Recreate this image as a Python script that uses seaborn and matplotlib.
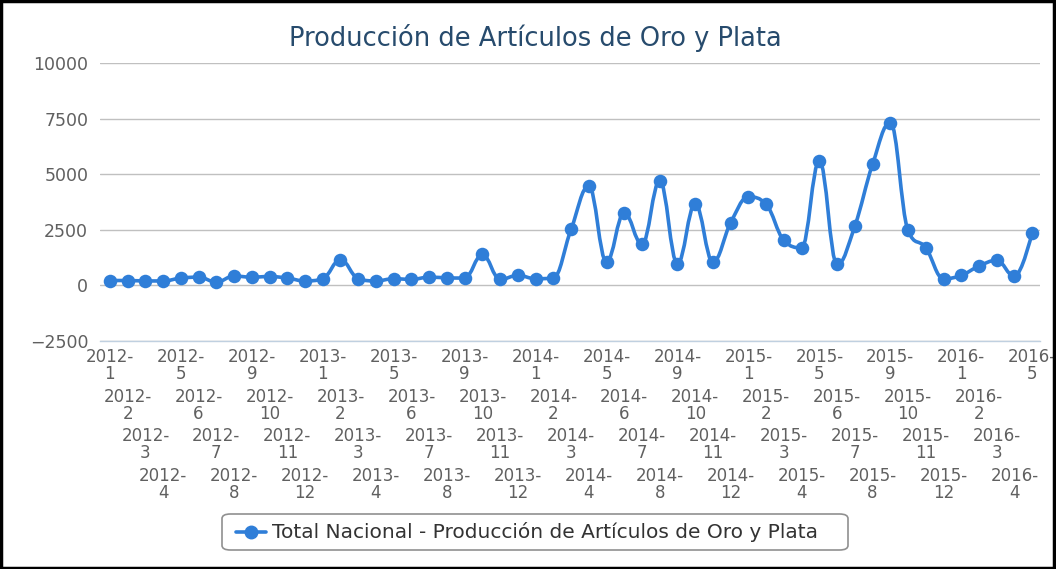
import numpy as np
import pandas as pd
import matplotlib
matplotlib.use("Agg")
import matplotlib.pyplot as plt
import seaborn as sns
from matplotlib.path import Path
from matplotlib.patches import PathPatch, FancyBboxPatch, Rectangle
from matplotlib.lines import Line2D

# --- data ---
years = [2012] * 12 + [2013] * 12 + [2014] * 12 + [2015] * 12 + [2016] * 5
months = list(range(1, 13)) * 4 + [1, 2, 3, 4, 5]
produccion = [
    220, 220, 200, 200, 330, 370, 150, 420, 370, 400, 330, 200,
    300, 1160, 300, 200, 300, 270, 370, 340, 330, 1390, 270, 450,
    300, 330, 2520, 4470, 1050, 3270, 1845, 4700, 975, 3670, 1050, 2820,
    3975, 3645, 2025, 1695, 5600, 945, 2670, 5445, 7320, 2475, 1695, 300,
    450, 870, 1125, 405, 2370,
]
etiquetas = [f"{y}-\n{m}" for y, m in zip(years, months)]

df = pd.DataFrame({"idx": np.arange(len(produccion)), "valor": produccion})

azul = "#2f7ed8"
gris = "#606060"

sns.set_style("white")
plt.rcParams["font.family"] = ["DejaVu Sans"]

fig = plt.figure(figsize=(10.56, 5.69), dpi=100)
ax = fig.add_axes([0.0947, 0.4007, 0.8903, 0.4886])

ax.set_xlim(-0.56, len(produccion) - 0.55)
ax.set_ylim(-2500, 10000)


# spline like the one Highcharts draws (smoothing 1.5, no false extremes)
def spline_path(xs, ys, smoothing=1.5):
    n = len(xs)
    den = smoothing + 1
    lc = [(xs[i], ys[i]) for i in range(n)]
    rc = [(xs[i], ys[i]) for i in range(n)]
    for i in range(1, n - 1):
        x0, y0 = xs[i - 1], ys[i - 1]
        x1, y1 = xs[i], ys[i]
        x2, y2 = xs[i + 1], ys[i + 1]
        lcx = (smoothing * x1 + x0) / den
        lcy = (smoothing * y1 + y0) / den
        rcx = (smoothing * x1 + x2) / den
        rcy = (smoothing * y1 + y2) / den
        corr = (rcy - lcy) * (rcx - x1) / (rcx - lcx) + y1 - rcy
        lcy += corr
        rcy += corr
        if lcy > y0 and lcy > y1:
            lcy = max(y0, y1)
            rcy = 2 * y1 - lcy
        elif lcy < y0 and lcy < y1:
            lcy = min(y0, y1)
            rcy = 2 * y1 - lcy
        if rcy > y2 and rcy > y1:
            rcy = max(y2, y1)
            lcy = 2 * y1 - rcy
        elif rcy < y2 and rcy < y1:
            rcy = min(y2, y1)
            lcy = 2 * y1 - rcy
        lc[i] = (lcx, lcy)
        rc[i] = (rcx, rcy)
    verts = [(xs[0], ys[0])]
    codes = [Path.MOVETO]
    for i in range(1, n):
        verts += [rc[i - 1], lc[i], (xs[i], ys[i])]
        codes += [Path.CURVE4] * 3
    return Path(verts, codes)


# work in pixel space so the smoothing matches screen geometry
fig.canvas.draw()
pix = ax.transData.transform(np.column_stack([df["idx"], df["valor"]]))
ruta = spline_path(pix[:, 0], pix[:, 1])
ax.add_patch(PathPatch(ruta, facecolor="none", edgecolor=azul, lw=2.6,
                       transform=None, zorder=3, capstyle="round",
                       joinstyle="round", clip_on=False))

sns.scatterplot(data=df, x="idx", y="valor", ax=ax, color=azul, s=95,
                edgecolor=azul, linewidth=0, zorder=4, legend=False)

ax.set_yticks([-2500, 0, 2500, 5000, 7500, 10000])
ax.yaxis.grid(True, color="#c0c0c0", lw=1)
ax.set_xlabel("")
ax.set_ylabel("")
for s in ["top", "right", "left"]:
    ax.spines[s].set_visible(False)
ax.spines["bottom"].set_color("#c0d0e0")
ax.spines["bottom"].set_linewidth(1)
ax.tick_params(axis="y", length=0, labelsize=12.5, labelcolor=gris, pad=8.5)

# x ticks and staggered labels in four rows
ax.set_xticks(np.arange(len(produccion)))
ax.set_xticklabels([])
ax.tick_params(axis="x", direction="out", length=6, color="#c0d0e0", width=1)
for i, lab in enumerate(etiquetas):
    fila = i % 4
    ax.text(i, -0.026 - fila * 0.142, lab, transform=ax.get_xaxis_transform(),
            ha="center", va="top", fontsize=12, color=gris, linespacing=0.92)

fig.text(0.507, 0.933, "Producción de Artículos de Oro y Plata", ha="center",
         va="center", fontsize=18.5, color="#274b6d")

# legend box
fig.patches.append(FancyBboxPatch((222 / 1056, 1 - 550 / 569), 626 / 1056, 36 / 569,
                                  boxstyle="round,pad=0,rounding_size=0.008",
                                  transform=fig.transFigure, facecolor="white",
                                  edgecolor="#909090", lw=1.2))
fig.lines.append(Line2D([236 / 1056, 266 / 1056], [1 - 532 / 569] * 2,
                        transform=fig.transFigure, color=azul, lw=2.6, zorder=5))
fig.lines.append(Line2D([251 / 1056], [1 - 532 / 569], transform=fig.transFigure,
                        color=azul, marker="o", markersize=9, lw=0, zorder=6))
fig.text(272 / 1056, 1 - 532 / 569,
         "Total Nacional - Producción de Artículos de Oro y Plata",
         ha="left", va="center", fontsize=14.5, color="#333333")

# outer frame of the screenshot
fig.patches.append(Rectangle((0.001, 0.001), 0.997, 0.997, transform=fig.transFigure,
                             fill=False, edgecolor="black", lw=2.5))

fig.savefig("out.png", dpi=100)
